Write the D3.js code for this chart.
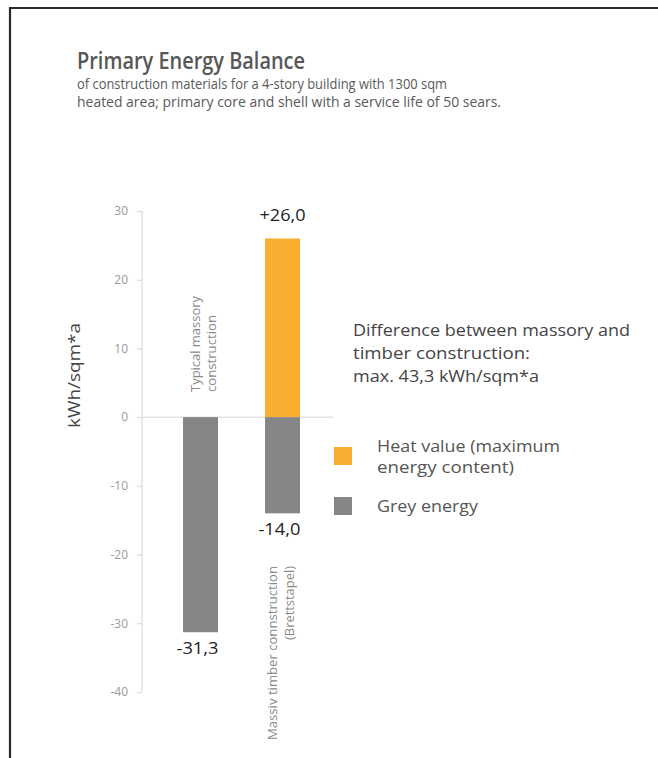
<!DOCTYPE html>
<html>
<head>
<meta charset="utf-8">
<script src="https://cdn.jsdelivr.net/npm/d3@7"></script>
<style>
  html, body { margin: 0; padding: 0; background: #fff; }
  svg { display: block; font-family: "Open Sans", "Noto Sans", sans-serif; }
</style>
</head>
<body>
<svg id="chart" width="658" height="758"></svg>
<script>
// Chart data
const categories = ["massory", "timber"];
const categoryLabels = [
  ["Typical massory", "construction"],
  ["Massiv timber connstruction", "(Brettstapel)"]
];
const heatValue = [0, 26.0];
const greyEnergy = [-31.3, -14.0];
const yTicks = [30, 20, 10, 0, -10, -20, -30, -40];

const titleText = "Primary Energy Balance";
const subtitleLines = [
  "of construction materials for a 4-story building with 1300 sqm",
  "heated area; primary core and shell with a service life of 50 sears."
];
const noteLines = [
  "Difference between massory and",
  "timber construction:",
  "max. 43,3 kWh/sqm*a"
];
const legendItems = [
  { lines: ["Heat value (maximum", "energy content)"], color: "#F8AF31" },
  { lines: ["Grey energy"], color: "#868686" }
];
const yAxisTitle = "kWh/sqm*a";

const svg = d3.select("#chart");

// Frame around the figure
svg.append("path")
  .attr("d", "M10,760 V8 H662")
  .attr("fill", "none")
  .attr("stroke", "#2b2b2b")
  .attr("stroke-width", 2.2);

// Fit text horizontally to a given width (narrow humanist look)
function fit(sel, w) {
  sel.attr("textLength", w).attr("lengthAdjust", "spacingAndGlyphs");
}

// Plain hyphen for negative numbers
const hy = s => s.replace("\u2212", "-");

// Title and subtitle
svg.append("text")
  .attr("x", 77).attr("y", 69)
  .attr("font-size", 23).attr("font-weight", 600)
  .attr("fill", "#575757")
  .text(titleText)
  .call(fit, 228);

const subWidths = [370, 424];
subtitleLines.forEach((t, i) => {
  svg.append("text")
    .attr("x", 77).attr("y", 89 + i * 18)
    .attr("font-size", 14.5)
    .attr("fill", "#5a5a5a")
    .text(t)
    .call(fit, subWidths[i]);
});

// Scales
const y = d3.scaleLinear().domain([-40, 30]).range([692, 211]);
const x = d3.scaleBand()
  .domain(categories)
  .range([142, 341])
  .paddingInner(0.573)
  .paddingOuter(0.5);

// Y axis
const axisG = svg.append("g").attr("transform", "translate(142,0)");
axisG.call(d3.axisLeft(y).tickValues(yTicks).tickSize(5).tickPadding(9)
  .tickFormat(d => hy(d3.format("d")(d))));
axisG.select(".domain").attr("stroke", "#d6d6d6").attr("d", `M0,${y(30)}V${y(-40)}`);
axisG.selectAll(".tick line").attr("stroke", "#d6d6d6");
axisG.selectAll(".tick text")
  .attr("fill", "#9a9a9a")
  .attr("font-size", 12)
  .attr("font-family", "'Open Sans', 'Noto Sans', sans-serif");

// Zero baseline
svg.append("line")
  .attr("x1", 142).attr("x2", 333)
  .attr("y1", y(0)).attr("y2", y(0))
  .attr("stroke", "#d6d6d6").attr("stroke-width", 1);

// Y axis title
svg.append("text")
  .attr("transform", `translate(80,${(323 + 428) / 2}) rotate(-90)`)
  .attr("text-anchor", "middle")
  .attr("font-size", 16)
  .attr("fill", "#444")
  .text(yAxisTitle)
  .call(fit, 105);

// Bars: heat value (positive) and grey energy (negative)
svg.selectAll("rect.heat")
  .data(categories.map((c, i) => ({ c, v: heatValue[i] })).filter(d => d.v > 0))
  .join("rect")
  .attr("class", "heat")
  .attr("x", d => x(d.c))
  .attr("width", x.bandwidth())
  .attr("y", d => y(d.v))
  .attr("height", d => y(0) - y(d.v))
  .attr("fill", legendItems[0].color);

svg.selectAll("rect.grey")
  .data(categories.map((c, i) => ({ c, v: greyEnergy[i] })))
  .join("rect")
  .attr("class", "grey")
  .attr("x", d => x(d.c))
  .attr("width", x.bandwidth())
  .attr("y", y(0))
  .attr("height", d => y(d.v) - y(0))
  .attr("fill", legendItems[1].color);

// Value labels
const fmt = v => (v > 0 ? "+" : "") + hy(d3.format(".1f")(v)).replace(".", ",");
categories.forEach((c, i) => {
  if (heatValue[i] > 0) {
    svg.append("text")
      .attr("x", x(c) + x.bandwidth() / 2)
      .attr("y", y(heatValue[i]) - 17)
      .attr("text-anchor", "middle")
      .attr("font-size", 16)
      .attr("fill", "#222")
      .text(fmt(heatValue[i]))
      .call(fit, 46);
  }
  svg.append("text")
    .attr("x", x(c) + x.bandwidth() / 2 - 3)
    .attr("y", y(greyEnergy[i]) + 22)
    .attr("text-anchor", "middle")
    .attr("font-size", 16)
    .attr("fill", "#222")
    .text(fmt(greyEnergy[i]))
    .call(fit, 42);
});

// Category labels (rotated)
const cx0 = x(categories[0]) + x.bandwidth() / 2;
categoryLabels[0].forEach((t, j) => {
  svg.append("text")
    .attr("transform", `translate(${cx0 - 1 + j * 16},392) rotate(-90)`)
    .attr("text-anchor", "start")
    .attr("font-size", 12.5)
    .attr("fill", "#8a8a8a")
    .text(t)
    .call(fit, j === 0 ? 96 : 77);
});
const cx1 = x(categories[1]) + x.bandwidth() / 2;
categoryLabels[1].forEach((t, j) => {
  svg.append("text")
    .attr("transform", `translate(${cx1 - 5 + j * 17},566) rotate(-90)`)
    .attr("text-anchor", "end")
    .attr("font-size", 12.5)
    .attr("fill", "#8a8a8a")
    .text(t)
    .call(fit, j === 0 ? 174 : 74);
});

// Difference note
const noteWidths = [277, 177, 186];
noteLines.forEach((t, i) => {
  svg.append("text")
    .attr("x", 353).attr("y", 336 + i * 23)
    .attr("font-size", 16)
    .attr("fill", "#444")
    .text(t)
    .call(fit, noteWidths[i]);
});

// Legend
const legendY = [447, 497];
const legendWidths = [[183, 137], [101]];
legendItems.forEach((d, i) => {
  svg.append("rect")
    .attr("x", 334).attr("y", legendY[i])
    .attr("width", 18).attr("height", 18)
    .attr("fill", d.color);
  d.lines.forEach((t, j) => {
    svg.append("text")
      .attr("x", 377)
      .attr("y", legendY[i] + 5 + j * 21 + (d.lines.length === 1 ? 10 : 0))
      .attr("font-size", 16)
      .attr("fill", "#555")
      .text(t)
      .call(fit, legendWidths[i][j]);
  });
});
</script>
</body>
</html>
